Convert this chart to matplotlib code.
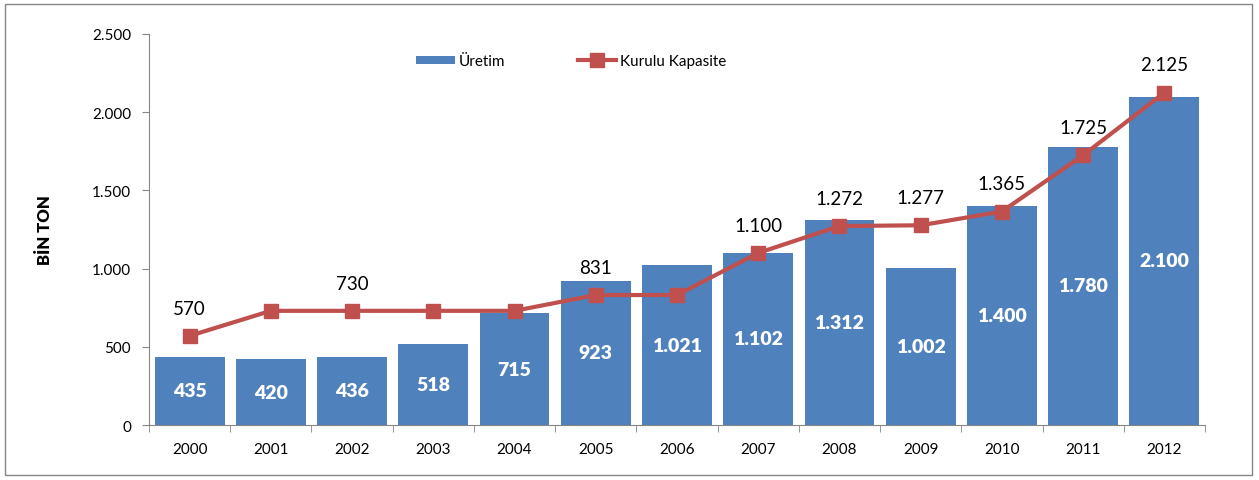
import matplotlib
matplotlib.use("Agg")
import matplotlib.pyplot as plt
from matplotlib.patches import Rectangle
import numpy as np

years = ["2000", "2001", "2002", "2003", "2004", "2005", "2006",
         "2007", "2008", "2009", "2010", "2011", "2012"]
uretim = [435, 420, 436, 518, 715, 923, 1021, 1102, 1312, 1002, 1400, 1780, 2100]
kapasite = [570, 730, 730, 730, 730, 831, 831, 1100, 1272, 1277, 1365, 1725, 2125]
kap_label_show = [True, False, True, False, False, True, False, True, True, True, True, True, True]
yticks = [0, 500, 1000, 1500, 2000, 2500]

def tr_fmt(v):
    return f"{v:,.0f}".replace(",", ".")

plt.rcParams['font.family'] = ['Lato', 'DejaVu Sans']

fig = plt.figure(figsize=(12.59, 4.81), dpi=100)
ax = fig.add_axes([149/1259, 1-426/481, (1205-149)/1259, (426-35)/481])

x = np.arange(len(years))
bar_color = "#4F81BD"
line_color = "#C0504D"

bars = ax.bar(x, uretim, width=0.86, color=bar_color, label="Üretim", zorder=2)
line, = ax.plot(x, kapasite, color=line_color, lw=3, marker="s", ms=10,
                label="Kurulu Kapasite", zorder=3)

for xi, v in zip(x, uretim):
    ax.text(xi, v/2, tr_fmt(v), ha="center", va="center", color="white",
            fontsize=14, fontweight="heavy", zorder=4)
for xi, v, s in zip(x, kapasite, kap_label_show):
    if s:
        ax.annotate(tr_fmt(v), (xi, v), xytext=(0, 20), textcoords="offset points",
                    ha="center", va="center", fontsize=13.5, color="#000000", zorder=4)

ax.set_xlim(-0.5, len(years)-0.5)
ax.set_ylim(0, 2500)
ax.set_yticks(yticks)
ax.set_yticklabels([tr_fmt(v) for v in yticks], fontsize=11)
ax.set_xticks(x)
ax.set_xticklabels(years, fontsize=11)
ax.tick_params(axis="x", length=0, pad=12)
ax.set_xticks(np.arange(-0.5, len(years), 1), minor=True)
ax.tick_params(axis="x", which="minor", length=5, color="#868686", direction="out")
ax.tick_params(axis="y", length=5, color="#868686", direction="out", pad=8)
for s in ["top", "right"]:
    ax.spines[s].set_visible(False)
for s in ["left", "bottom"]:
    ax.spines[s].set_color("#868686")
ax.set_ylabel("BİN TON", fontsize=12, fontweight="heavy", labelpad=28)

leg = ax.legend(handles=[bars, line], loc="center", bbox_to_anchor=(0.40, 0.93), ncol=2,
                frameon=False, fontsize=11, handlelength=2.5, handleheight=0.5,
                columnspacing=4.8, handletextpad=0.25)

fig.patches.append(Rectangle((5/1259, 5/481), 1247/1259, 471/481, transform=fig.transFigure,
                             fill=False, edgecolor="#868686", lw=1))

fig.savefig("out.png", dpi=100)
